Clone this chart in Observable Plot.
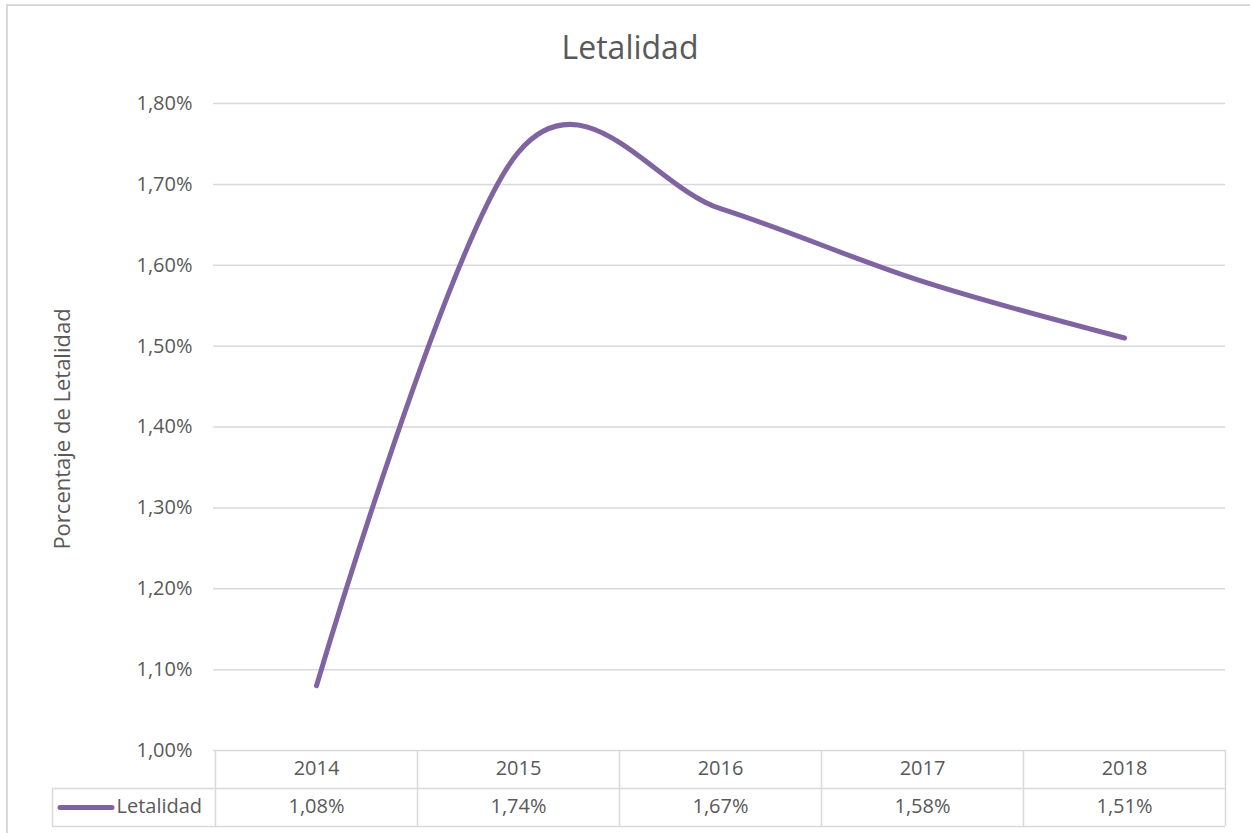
<!DOCTYPE html>
<html>
<head>
<meta charset="utf-8">
<script src="https://cdn.jsdelivr.net/npm/d3@7"></script>
<script src="https://cdn.jsdelivr.net/npm/@observablehq/plot@0.6"></script>
<style>
html, body { margin: 0; padding: 0; background: #fff; overflow: hidden; }
#wrap { position: relative; width: 1250px; height: 833px; font-family: "Open Sans", sans-serif; }
#frame { position: absolute; left: 6px; top: 4px; width: 1300px; height: 900px; border-left: 2px solid #d9d9d9; border-top: 2px solid #d9d9d9; box-sizing: border-box; }
#title { position: absolute; left: 0; width: 1260px; top: 32px; line-height: 30px; text-align: center; font-size: 32px; color: #595959; }
#chart { position: absolute; left: 0; top: 0; }
</style>
</head>
<body>
<div id="wrap"><div id="frame"></div><div id="title"></div><div id="chart"></div></div>
<script>
const chartTitle = "Letalidad";
const seriesName = "Letalidad";
const yLabel = "Porcentaje de Letalidad";
const years = ["2014", "2015", "2016", "2017", "2018"];
const letalidad = [1.08, 1.74, 1.67, 1.58, 1.51];
const yTicks = [1.0, 1.1, 1.2, 1.3, 1.4, 1.5, 1.6, 1.7, 1.8];

const loc = d3.formatLocale({decimal: ",", thousands: ".", grouping: [3], currency: ["", " €"]});
const f2 = loc.format(".2f");
const fmt = d => f2(d) + "%";

const data = years.map((y, i) => ({year: y, value: letalidad[i]}));

const W = 1250, H = 833, mL = 215, mR = 25, mT = 103, mB = 83;
const plotH = H - mT - mB;
const step = (W - mL - mR) / years.length;
const rowH = 38;
const textShift = 5;
const tableLeft = 52;
const grey = "#d9d9d9", textCol = "#595959", purple = "#8064A2";
const fs = 20;

document.getElementById("title").textContent = chartTitle;

const chart = Plot.plot({
  width: W, height: H,
  marginLeft: mL, marginRight: mR, marginTop: mT, marginBottom: mB,
  style: {background: "transparent", fontFamily: "'Open Sans', sans-serif", color: textCol, overflow: "visible"},
  x: {type: "point", domain: years, padding: 0.5, axis: null},
  y: {domain: [1.0, 1.8], axis: null},
  marks: [
    Plot.ruleY(yTicks, {stroke: grey, strokeWidth: 1.5, insetLeft: -2}),
    Plot.axisY(yTicks, {tickSize: 0, tickPadding: 23, tickFormat: fmt, fontSize: fs, fill: textCol, label: null}),
    Plot.text([yLabel], {frameAnchor: "left", textAnchor: "middle", rotate: -90, dx: 62 - mL, dy: 2, fontSize: 22, fill: textCol}),
    // data table grid
    Plot.ruleY([1.0], {dy: rowH, insetLeft: -(mL - tableLeft), stroke: grey, strokeWidth: 1.5}),
    Plot.ruleY([1.0], {dy: 2 * rowH, insetLeft: -(mL - tableLeft), stroke: grey, strokeWidth: 1.5}),
    Plot.ruleX(years, {dx: -step / 2, insetTop: plotH, insetBottom: -2 * rowH, stroke: grey, strokeWidth: 1.5}),
    Plot.ruleX([years[years.length - 1]], {dx: step / 2, insetTop: plotH, insetBottom: -2 * rowH, stroke: grey, strokeWidth: 1.5}),
    Plot.ruleX([years[0]], {dx: tableLeft - (mL + step / 2), insetTop: plotH + rowH, insetBottom: -2 * rowH, stroke: grey, strokeWidth: 1.5}),
    // table texts
    Plot.text(years, {x: d => d, frameAnchor: "bottom", dy: rowH / 2 + textShift, fontSize: fs, fill: textCol}),
    Plot.text(data, {x: "year", text: d => fmt(d.value), frameAnchor: "bottom", dy: rowH * 1.5 + textShift, fontSize: fs, fill: textCol}),
    Plot.text([seriesName], {frameAnchor: "bottom-left", dx: 116 - mL, dy: rowH * 1.5 + textShift, textAnchor: "start", fontSize: fs, fill: textCol}),
    // legend swatch
    Plot.ruleY([1.0], {dy: rowH * 1.5, insetLeft: -(mL - 60), insetRight: (W - mR) - 112, stroke: purple, strokeWidth: 5, strokeLinecap: "round"}),
    // series line
    Plot.line(data, {x: "year", y: "value", stroke: purple, strokeWidth: 5, curve: "cardinal", tension: 0, strokeLinecap: "round", strokeLinejoin: "round"})
  ]
});
document.getElementById("chart").appendChild(chart);
</script>
</body>
</html>
